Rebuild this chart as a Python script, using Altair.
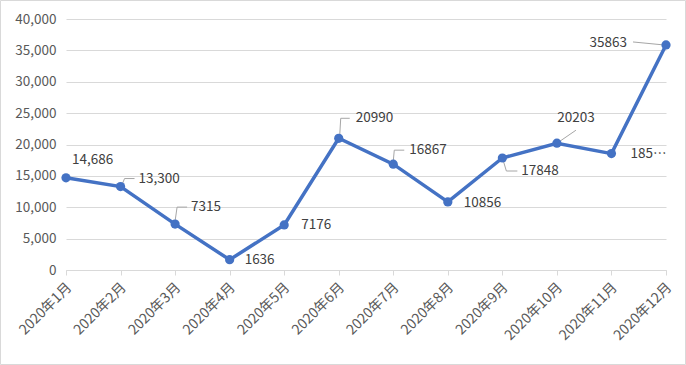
import altair as alt
import pandas as pd

months = ["2020年1月", "2020年2月", "2020年3月", "2020年4月", "2020年5月", "2020年6月",
          "2020年7月", "2020年8月", "2020年9月", "2020年10月", "2020年11月", "2020年12月"]
values = [14686, 13300, 7315, 1636, 7176, 20990, 16867, 10856, 17848, 20203, 18550, 35863]
labels = ["14,686", "13,300", "7315", "1636", "7176", "20990", "16867", "10856",
          "17848", "20203", "185…", "35863"]
y_ticks = [0, 5000, 10000, 15000, 20000, 25000, 30000, 35000, 40000]

df = pd.DataFrame({"month": months, "value": values, "label": labels})

FONT = "Noto Sans CJK SC"
LINE = "#4472C4"
GRID = "#D9D9D9"
TEXT = "#404040"

# label placement (styling, kept apart from the data)
label_style = {
    months[0]: (6, -18, "left"),
    months[1]: (18, -8, "left"),
    months[2]: (16, -17, "left"),
    months[3]: (15, 0, "left"),
    months[4]: (17, 0, "left"),
    months[5]: (17, -20, "left"),
    months[6]: (16, -14, "left"),
    months[7]: (16, 1, "left"),
    months[8]: (19, 13, "left"),
    months[9]: (19, -25, "center"),
    months[10]: (19, 0, "left"),
    months[11]: (-39, -2, "right"),
}
# leader line segments (pixel offsets from the point)
leaders = [
    (months[1], 2, -3, 4, -8), (months[1], 4, -8, 14, -8),
    (months[2], 0, -3, 2, -17), (months[2], 2, -17, 12, -17),
    (months[5], 1, -3, 2, -20), (months[5], 2, -20, 11, -20),
    (months[6], 0, -3, 1, -14), (months[6], 1, -14, 11, -14),
    (months[8], 1, 3, 4, 13), (months[8], 4, 13, 15, 13),
    (months[9], 3, -2, 19, -13),
    (months[11], -2, 0, -33, -3),
]

x_enc = alt.X("month:N", sort=months,
              scale=alt.Scale(type="point", padding=0),
              axis=alt.Axis(title=None, labelAngle=-45, labelAlign="right",
                            labelBaseline="middle", labelPadding=10, labelOffset=3,
                            domainColor=GRID, tickColor=GRID, tickSize=5,
                            grid=False, labelColor="#595959",
                            labelFont=FONT, labelFontSize=14))
y_enc = alt.Y("value:Q", scale=alt.Scale(domain=[0, 40000]),
              axis=alt.Axis(title=None, values=y_ticks, format=",.0f",
                            domain=False, ticks=False, gridColor=GRID,
                            labelPadding=10, labelColor="#595959",
                            labelFont=FONT, labelFontSize=13.5))

base = alt.Chart(df)

line = base.mark_line(color=LINE, strokeWidth=3.5).encode(x=x_enc, y=y_enc)
points = base.mark_circle(color=LINE, size=85, opacity=1).encode(x=x_enc, y=y_enc)

layers = []
for (m, x1, y1, x2, y2) in leaders:
    layers.append(
        base.transform_filter(alt.datum.month == m)
        .mark_rule(color="#A6A6A6", strokeWidth=1,
                   xOffset=x1, yOffset=y1, x2Offset=x2, y2Offset=y2)
        .encode(x=x_enc, x2="month", y=y_enc, y2="value")
    )

texts = []
for m, (dx, dy, al) in label_style.items():
    texts.append(
        base.transform_filter(alt.datum.month == m)
        .mark_text(dx=dx, dy=dy, align=al, baseline="middle",
                   font=FONT, fontSize=13.5, color=TEXT)
        .encode(x=x_enc, y=y_enc, text="label:N")
    )

border = alt.Chart(pd.DataFrame({"a": [0]})).mark_rect(
    fillOpacity=0, stroke=GRID, strokeWidth=1
).encode(x=alt.value(-65.5), x2=alt.value(619.5),
         y=alt.value(-18.5), y2=alt.value(345.5))

chart = alt.layer(border, *layers, line, points, *texts).properties(
    width=600, height=251,
    autosize=alt.AutoSizeParams(type="none"),
    padding={"left": 66, "top": 19, "right": 20, "bottom": 95},
    background="white",
).configure_view(stroke=None)

chart.save("out.html", embed_options={"renderer": "svg", "actions": False})
